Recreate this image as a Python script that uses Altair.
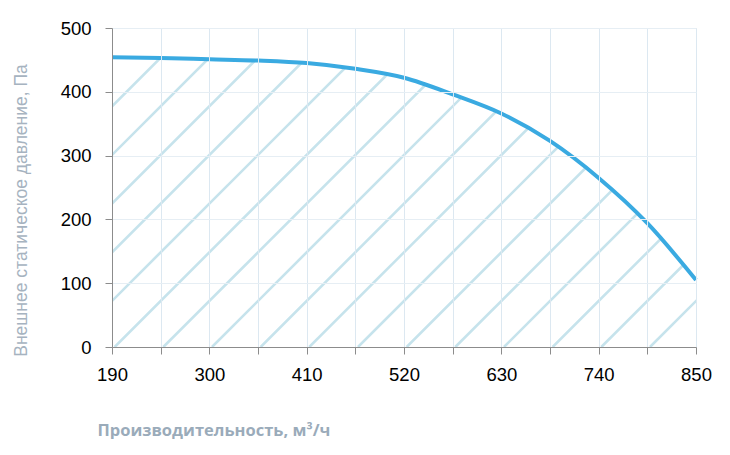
import altair as alt
import pandas as pd

# Curve data
flow = [190, 245, 300, 355, 410, 465, 520, 575, 630, 685, 740, 795, 850]
pressure = [454, 453, 451, 449, 445, 436, 422, 396, 366, 323, 265, 194, 105]

x_ticks = [190, 245, 300, 355, 410, 465, 520, 575, 630, 685, 740, 795, 850]
y_ticks = [0, 100, 200, 300, 400, 500]

X_MIN, X_MAX = 190, 850
Y_MIN, Y_MAX = 0, 500

curve = pd.DataFrame({"q": flow, "p": pressure})
mask = pd.DataFrame({"q": flow, "p": pressure, "top": [Y_MAX] * len(flow)})

# hatch: diagonal decoration lines at 45 degrees on screen, spaced like the x grid
step = 55
rise_run = 360.5  # x-units spanned while rising the full y range (45deg at this size)
hx0, hx1, hy0, hy1 = [], [], [], []
for k in range(-7, 13):
    start = X_MIN + 3 + step * k
    hx0.append(start)
    hx1.append(start + rise_run)
    hy0.append(Y_MIN)
    hy1.append(Y_MAX)
hatch = pd.DataFrame({"x0": hx0, "x1": hx1, "y0": hy0, "y1": hy1})

FONT = "Liberation Sans, Arial, sans-serif"
TITLE_COLOR = "#9aabba"

xscale = alt.Scale(domain=[X_MIN, X_MAX], nice=False, zero=False)
yscale = alt.Scale(domain=[Y_MIN, Y_MAX], nice=False)

x_axis = alt.Axis(
    values=x_ticks,
    labelExpr="(datum.value - 190) % 110 == 0 ? datum.label : ''",
    title="Производительность, м³/ч",
    titleFont="Open Sans",
    titleFontWeight="bold",
    titleFontSize=16.5,
    titleColor=TITLE_COLOR,
    titleAnchor="start",
    titleAlign="left",
    titleX=-15,
    titleY=88,
    titleBaseline="alphabetic",
    labelFont=FONT,
    labelFontSize=18.5,
    labelColor="#000000",
    labelPadding=11,
    labelFlush=False,
    labelOverlap=False,
    tickSize=7,
    tickColor="#8c8c8c",
    domainColor="#8c8c8c",
    gridColor="#dce8f1",
    gridWidth=1,
    zindex=1,
)

y_axis = alt.Axis(
    values=y_ticks,
    title="Внешнее статическое давление, Па",
    titleFont=FONT,
    titleFontWeight="normal",
    titleFontSize=17.5,
    titleColor="#a6b3c0",
    titleAngle=270,
    titleAlign="center",
    titleBaseline="bottom",
    titleX=-82,
    titleY=182,
    labelFont=FONT,
    labelFontSize=18.5,
    labelColor="#000000",
    labelPadding=14,
    labelFlush=False,
    tickSize=7,
    tickColor="#8c8c8c",
    domainColor="#8c8c8c",
    gridColor="#e6eef4",
    gridWidth=1,
    zindex=1,
)

hatch_layer = alt.Chart(hatch).mark_rule(
    color="#c6e3ec", strokeWidth=2.6, clip=True
).encode(
    x=alt.X("x0:Q", scale=xscale, axis=x_axis),
    x2="x1:Q",
    y=alt.Y("y0:Q", scale=yscale, axis=y_axis),
    y2="y1:Q",
)

mask_layer = alt.Chart(mask).mark_area(
    color="white", interpolate="monotone", clip=True
).encode(
    x=alt.X("q:Q", scale=xscale),
    y=alt.Y("p:Q", scale=yscale),
    y2="top:Q",
)

line_layer = alt.Chart(curve).mark_line(
    color="#3aaae1", strokeWidth=4, interpolate="monotone", clip=False
).encode(
    x=alt.X("q:Q", scale=xscale),
    y=alt.Y("p:Q", scale=yscale),
)

chart = alt.layer(hatch_layer, mask_layer, line_layer).properties(
    width=584,
    height=319,
    autosize=alt.AutoSizeParams(type="none"),
    padding={"left": 104, "top": 20, "right": 26, "bottom": 92},
).configure_view(stroke=None).configure(background="white")

chart.save("out.html", embed_options={"renderer": "svg", "actions": False})
